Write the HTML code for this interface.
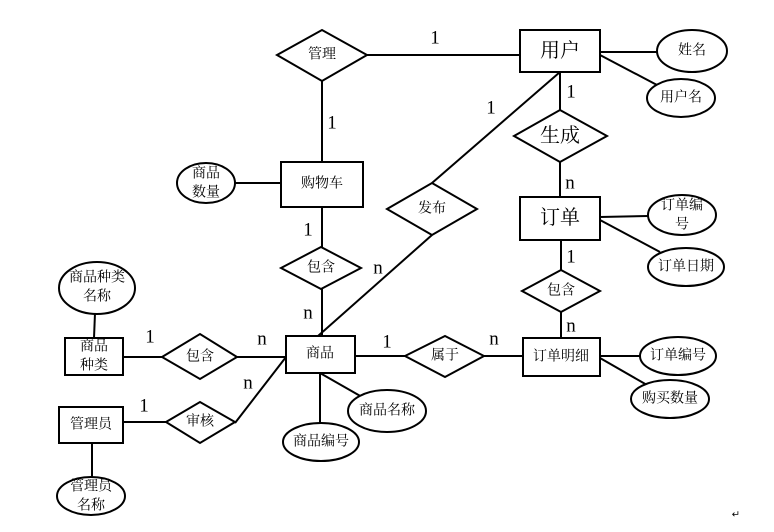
<!DOCTYPE html>
<html><head><meta charset="utf-8"><style>
html,body{margin:0;padding:0;background:#fff;}
svg{display:block;}
text{font-family:"Liberation Serif","Noto Serif CJK SC",serif;fill:#000;text-anchor:middle;dominant-baseline:central;}
.s{font-size:14px;}
.b{font-size:20px;}
.n{font-size:19px;}
</style></head><body>
<svg width="774" height="532" viewBox="0 0 774 532" xmlns="http://www.w3.org/2000/svg">
<g stroke="#000" stroke-width="2" fill="none">
<!-- lines -->
<line x1="367" y1="55" x2="520" y2="55"/>
<line x1="322" y1="81" x2="322" y2="162"/>
<line x1="235" y1="183" x2="281" y2="183"/>
<line x1="322" y1="207" x2="322" y2="247"/>
<line x1="322" y1="289" x2="322" y2="336"/>
<line x1="600" y1="52" x2="658" y2="52"/>
<line x1="600" y1="55" x2="657" y2="85"/>
<line x1="560" y1="72" x2="560" y2="110"/>
<line x1="560" y1="162" x2="560" y2="197"/>
<line x1="560" y1="72" x2="432" y2="183"/>
<line x1="432" y1="235" x2="318" y2="336"/>
<line x1="600" y1="217" x2="648" y2="216"/>
<line x1="600" y1="220" x2="660" y2="252"/>
<line x1="561" y1="240" x2="561" y2="270"/>
<line x1="561" y1="312" x2="561" y2="338"/>
<line x1="600" y1="356" x2="640" y2="356"/>
<line x1="600" y1="358" x2="647" y2="385"/>
<line x1="355" y1="356" x2="405" y2="356"/>
<line x1="484" y1="356" x2="523" y2="356"/>
<line x1="320" y1="373" x2="362" y2="397"/>
<line x1="320" y1="373" x2="320" y2="423"/>
<line x1="123" y1="357" x2="162" y2="357"/>
<line x1="237" y1="357" x2="286" y2="357"/>
<line x1="95" y1="313" x2="94" y2="338"/>
<line x1="123" y1="422" x2="166" y2="422"/>
<line x1="235" y1="423" x2="286" y2="357"/>
<line x1="92" y1="443" x2="92" y2="478"/>
</g>
<g stroke="#000" stroke-width="2" fill="#fff">
<!-- diamonds -->
<polygon points="277,55 322,30 367,55 322,81"/>
<polygon points="281,268 321,247 361,268 321,289"/>
<polygon points="514,136 560,110 607,136 560,162"/>
<polygon points="387,209 432,183 477,209 432,235"/>
<polygon points="522,291 561,270 600,291 561,312"/>
<polygon points="405,356 445,336 484,356 445,377"/>
<polygon points="162,357 200,334 237,357 200,379"/>
<polygon points="166,422 200,402 235,422 200,443"/>
<!-- boxes -->
<rect x="520" y="30" width="80" height="42"/>
<rect x="281" y="162" width="82" height="45"/>
<rect x="520" y="197" width="80" height="43"/>
<rect x="523" y="338" width="77" height="38"/>
<rect x="286" y="336" width="69" height="37"/>
<rect x="65" y="338" width="58" height="37"/>
<rect x="59" y="407" width="64" height="36"/>
<!-- ellipses -->
<ellipse cx="692" cy="51" rx="35" ry="21"/>
<ellipse cx="681" cy="98" rx="34" ry="19"/>
<ellipse cx="206" cy="183" rx="29" ry="20"/>
<ellipse cx="682" cy="215" rx="34" ry="20"/>
<ellipse cx="686" cy="267" rx="38" ry="19"/>
<ellipse cx="678" cy="356" rx="38" ry="19"/>
<ellipse cx="670" cy="399" rx="39" ry="19"/>
<ellipse cx="387" cy="411" rx="39" ry="21"/>
<ellipse cx="321" cy="442" rx="38" ry="19"/>
<ellipse cx="97" cy="288" rx="38" ry="26"/>
<ellipse cx="91" cy="496" rx="34" ry="19"/>
</g>
<text class="s" x="322" y="55">管理</text>
<text class="b" x="560" y="51">用户</text>
<text class="s" x="692" y="51">姓名</text>
<text class="s" x="681" y="98">用户名</text>
<text class="s" x="206" y="174">商品</text>
<text class="s" x="206" y="193">数量</text>
<text class="s" x="322" y="184">购物车</text>
<text class="b" x="560" y="136">生成</text>
<text class="s" x="432" y="209">发布</text>
<text class="b" x="560" y="218">订单</text>
<text class="s" x="682" y="206">订单编</text>
<text class="s" x="682" y="225">号</text>
<text class="s" x="686" y="267">订单日期</text>
<text class="s" x="321" y="268">包含</text>
<text class="s" x="561" y="291">包含</text>
<text class="s" x="561" y="357">订单明细</text>
<text class="s" x="678" y="356">订单编号</text>
<text class="s" x="670" y="399">购买数量</text>
<text class="s" x="445" y="356">属于</text>
<text class="s" x="320" y="354">商品</text>
<text class="s" x="387" y="411">商品名称</text>
<text class="s" x="321" y="442">商品编号</text>
<text class="s" x="200" y="357">包含</text>
<text class="s" x="94" y="347">商品</text>
<text class="s" x="94" y="366">种类</text>
<text class="s" x="97" y="278">商品种类</text>
<text class="s" x="97" y="297">名称</text>
<text class="s" x="200" y="422">审核</text>
<text class="s" x="91" y="425">管理员</text>
<text class="s" x="91" y="487">管理员</text>
<text class="s" x="91" y="506">名称</text>
<text class="n" x="435" y="38">1</text>
<text class="n" x="332" y="123">1</text>
<text class="n" x="491" y="108">1</text>
<text class="n" x="571" y="92">1</text>
<text class="n" x="570" y="183">n</text>
<text class="n" x="308" y="230">1</text>
<text class="n" x="378" y="268">n</text>
<text class="n" x="308" y="313">n</text>
<text class="n" x="571" y="257">1</text>
<text class="n" x="571" y="326">n</text>
<text class="n" x="387" y="342">1</text>
<text class="n" x="494" y="339">n</text>
<text class="n" x="150" y="337">1</text>
<text class="n" x="262" y="339">n</text>
<text class="n" x="144" y="406">1</text>
<text class="n" x="248" y="383">n</text>
<text style="font-size:10px" x="736" y="515">↵</text>
</svg>
</body></html>
